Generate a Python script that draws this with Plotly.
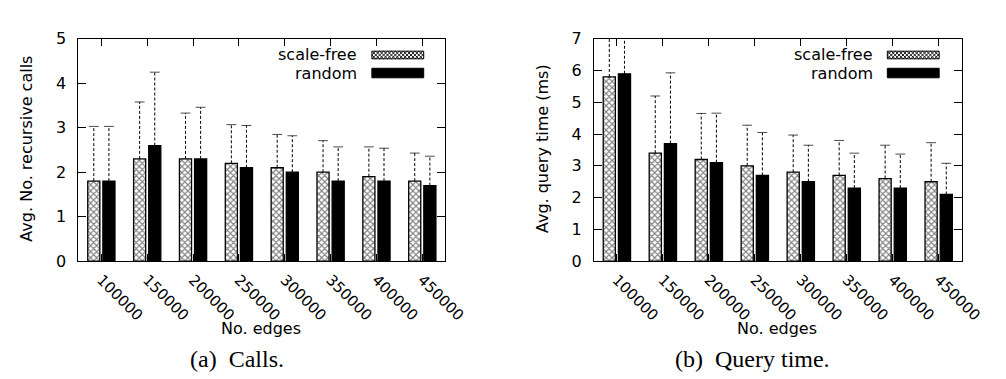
import plotly.graph_objects as go
from plotly.subplots import make_subplots

# ---------------- data ----------------
edges = ["100000", "150000", "200000", "250000", "300000", "350000", "400000", "450000"]

calls_scalefree = [1.8, 2.3, 2.3, 2.2, 2.1, 2.0, 1.9, 1.8]
calls_random = [1.8, 2.6, 2.3, 2.1, 2.0, 1.8, 1.8, 1.7]
calls_scalefree_err = [1.23, 1.28, 1.03, 0.87, 0.75, 0.71, 0.67, 0.63]
calls_random_err = [1.23, 1.65, 1.16, 0.95, 0.82, 0.77, 0.74, 0.66]

time_scalefree = [5.8, 3.4, 3.2, 3.0, 2.8, 2.7, 2.6, 2.5]
time_random = [5.9, 3.7, 3.1, 2.7, 2.5, 2.3, 2.3, 2.1]
time_scalefree_err = [2.1, 1.8, 1.45, 1.28, 1.17, 1.1, 1.05, 1.23]
time_random_err = [2.2, 2.23, 1.56, 1.35, 1.15, 1.1, 1.07, 0.98]

# ---------------- geometry helpers ----------------
W, H = 1006, 379
def fx(x):
    return x / W
def fy(y):
    return 1 - y / H

FONT = "DejaVu Sans, Liberation Sans, Arial, sans-serif"
SERIF = "Liberation Serif, Times New Roman, serif"
BARGAP = 0.34

fig = make_subplots(rows=1, cols=2)

def add_panel(col, sf, rnd, sf_err, rnd_err):
    fig.add_trace(go.Bar(
        x=edges, y=sf, name="scale-free", offsetgroup="sf",
        marker=dict(color="white", line=dict(color="black", width=1.3),
                    pattern=dict(shape="x", fgcolor="black", bgcolor="white",
                                 size=4.3, solidity=0.45)),
        showlegend=False), row=1, col=col)
    fig.add_trace(go.Bar(
        x=edges, y=rnd, name="random", offsetgroup="rnd",
        marker=dict(color="black", line=dict(color="black", width=1.3)),
        showlegend=False), row=1, col=col)
    for vals, errs, grp in ((sf, sf_err, "sf"), (rnd, rnd_err, "rnd")):
        xs, ys, sizes = [], [], []
        for c, v, e in zip(edges, vals, errs):
            xs += [c, c, None]
            ys += [v, v + e, None]
            sizes += [0, 7, 0]
        fig.add_trace(go.Scatter(
            x=xs, y=ys, mode="lines+markers", offsetgroup=grp,
            line=dict(color="black", width=1, dash="3px,2px"),
            marker=dict(symbol="line-ew", size=sizes,
                        line=dict(color="black", width=1)),
            connectgaps=False, showlegend=False, hoverinfo="skip"),
            row=1, col=col)

add_panel(1, calls_scalefree, calls_random, calls_scalefree_err, calls_random_err)
add_panel(2, time_scalefree, time_random, time_scalefree_err, time_random_err)

ax_common = dict(showline=True, linecolor="black", linewidth=1, mirror="ticks",
                 ticks="inside", tickcolor="black", showgrid=False, zeroline=False)

fig.update_xaxes(**ax_common, tickangle=45, ticklen=7, ticklabelstandoff=3,
                 tickfont=dict(family=FONT, size=15, color="black"))
fig.update_yaxes(**ax_common, ticklen=8, dtick=1, ticklabelstandoff=8,
                 tickfont=dict(family=FONT, size=16, color="black"))

fig.update_layout(
    xaxis=dict(domain=[fx(72), fx(447)]),
    xaxis2=dict(domain=[fx(599), fx(975)]),
    yaxis=dict(domain=[fy(257), fy(23)], range=[0, 5]),
    yaxis2=dict(domain=[fy(257), fy(23)], range=[0, 7]),
    barmode="group", bargap=BARGAP, bargroupgap=0.2,
    scattermode="group", scattergap=BARGAP,
    width=W, height=H,
    margin=dict(l=0, r=0, t=0, b=0),
    paper_bgcolor="white", plot_bgcolor="white",
    showlegend=False,
)

annotations = []
shapes = []

def text(x, y, s, size=16, angle=0, anchor="center", family=FONT):
    annotations.append(dict(x=fx(x), y=fy(y), xref="paper", yref="paper", text=s,
                            showarrow=False, textangle=angle, xanchor=anchor,
                            yanchor="middle", font=dict(family=family, size=size, color="black")))

for off, ytitle, cap, ycx in ((0, "Avg. No. recursive calls", "(a)\u00a0 Calls.", 18),
                              (527, "Avg. query time (ms)", "(b)\u00a0 Query time.", 546)):
    text(ycx, 139, ytitle, angle=-90)
    text(259 + off, 328, "No. edges")
    text(234 + off, 360, cap, size=24, family=SERIF)
    # legend
    text(359 + off, 40, "scale-free", anchor="right")
    text(359 + off, 59, "random", anchor="right")
    kx0, kx1 = 372 + off, 425 + off
    ky0, ky1 = 36, 44
    shapes.append(dict(type="rect", xref="paper", yref="paper",
                       x0=fx(kx0), x1=fx(kx1), y0=fy(ky1), y1=fy(ky0),
                       fillcolor="white", line=dict(color="black", width=1)))
    # crosshatch lines inside key box
    path = ""
    step = 4
    h = ky1 - ky0
    c = kx0 - h
    while c < kx1:
        xa, ya = c, ky0
        xb, yb = c + h, ky1
        if xa < kx0:
            ya += kx0 - xa; xa = kx0
        if xb > kx1:
            yb -= xb - kx1; xb = kx1
        if xb > xa:
            path += f"M{fx(xa)},{fy(ya)}L{fx(xb)},{fy(yb)}"
        xa, ya = c, ky1
        xb, yb = c + h, ky0
        if xa < kx0:
            ya -= kx0 - xa; xa = kx0
        if xb > kx1:
            yb += xb - kx1; xb = kx1
        if xb > xa:
            path += f"M{fx(xa)},{fy(ya)}L{fx(xb)},{fy(yb)}"
        c += step
    shapes.append(dict(type="path", xref="paper", yref="paper", path=path,
                       line=dict(color="black", width=0.9)))
    shapes.append(dict(type="rect", xref="paper", yref="paper",
                       x0=fx(kx0), x1=fx(kx1), y0=fy(64), y1=fy(54),
                       fillcolor="black", line=dict(color="black", width=1)))

fig.update_layout(annotations=annotations, shapes=shapes)

fig.write_html("out.html")
